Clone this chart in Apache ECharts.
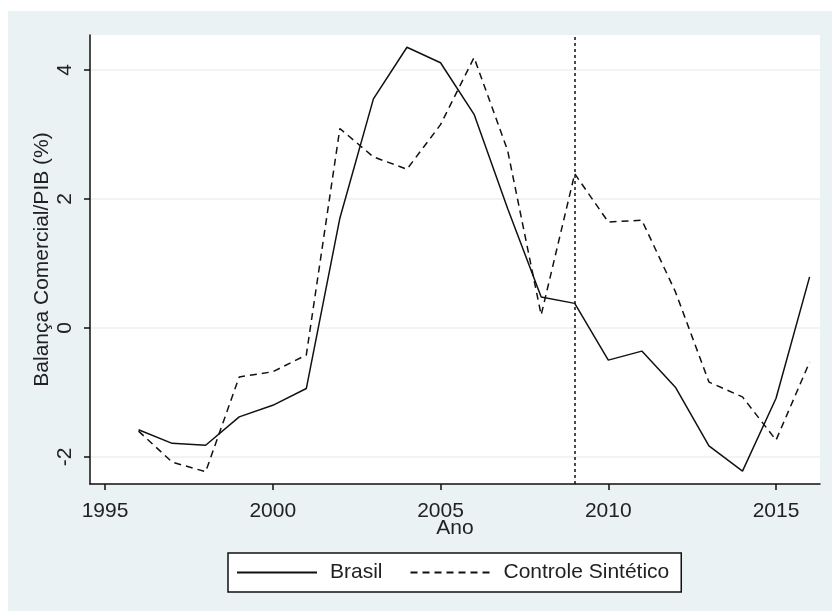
<!DOCTYPE html>
<html>
<head>
<meta charset="utf-8">
<script src="https://cdn.jsdelivr.net/npm/echarts@6/dist/echarts.min.js"></script>
<style>
html,body{margin:0;padding:0;background:#fff;}
#chart{width:832px;height:611px;}
</style>
</head>
<body>
<div id="chart"></div>
<script>
const years = [1996,1997,1998,1999,2000,2001,2002,2003,2004,2005,2006,2007,2008,2009,2010,2011,2012,2013,2014,2015,2016];
const brasil = [-1.58,-1.79,-1.82,-1.38,-1.20,-0.94,1.70,3.55,4.35,4.11,3.31,1.85,0.48,0.38,-0.50,-0.36,-0.92,-1.83,-2.22,-1.09,0.79];
const sintetico = [-1.60,-2.08,-2.23,-0.76,-0.68,-0.42,3.09,2.65,2.46,3.15,4.19,2.75,0.20,2.39,1.64,1.67,0.56,-0.84,-1.07,-1.74,-0.53];
const xTicks = [1995,2000,2005,2010,2015];
const yTicks = [-2,0,2,4];
const treatmentYear = 2009;
const seriesNames = ['Brasil','Controle Sintético'];
const xName = 'Ano';
const yName = 'Balança Comercial/PIB (%)';

const FONT = '"Liberation Sans", Arial, sans-serif';
const FS = 21;
const TXT = '#222';
const chart = echarts.init(document.getElementById('chart'));
chart.setOption({
  animation:false,
  backgroundColor:'#fff',
  graphic:[{type:'rect',left:8,top:11,z:-100,shape:{width:824,height:600},style:{fill:'#EAF2F3'},silent:true}],
  grid:{left:90,right:12,top:35,bottom:127,show:true,backgroundColor:'#fff',borderWidth:0},
  xAxis:{
    type:'value',min:1994.553,max:2016.31,
    name:xName,nameLocation:'middle',nameGap:34,nameMoveOverlap:false,
    nameTextStyle:{fontFamily:FONT,fontSize:FS,color:TXT},
    axisLine:{show:true,onZero:false,lineStyle:{color:'#111',width:1.5}},
    axisTick:{show:true,length:6,customValues:xTicks,lineStyle:{color:'#111',width:1.5}},
    axisLabel:{customValues:xTicks,margin:17,fontFamily:FONT,fontSize:FS,color:TXT,formatter:v=>String(v)},
    splitLine:{show:false}
  },
  yAxis:{
    type:'value',min:-2.42,max:4.54,
    name:yName,nameLocation:'middle',nameRotate:90,nameGap:37,nameMoveOverlap:false,
    nameTextStyle:{fontFamily:FONT,fontSize:FS,color:TXT},
    axisLine:{show:true,onZero:false,lineStyle:{color:'#111',width:1.5}},
    axisTick:{show:true,length:6,customValues:yTicks,lineStyle:{color:'#111',width:1.5}},
    axisLabel:{customValues:yTicks,rotate:90,margin:14,fontFamily:FONT,fontSize:FS,color:TXT,formatter:v=>String(v)},
    splitLine:{show:true,lineStyle:{color:'#EAF2F3',width:1.5}}
  },
  legend:{
    left:228,top:553,orient:'horizontal',
    backgroundColor:'#fff',borderColor:'#111',borderWidth:1.5,borderRadius:0,
    padding:[9,12,9,8],itemGap:27,itemWidth:80,itemHeight:14,
    itemStyle:{opacity:0},
    textStyle:{fontFamily:FONT,fontSize:FS,color:TXT,padding:[0,0,0,8]},
    data:seriesNames.map(n=>({name:n}))
  },
  series:[
    {name:seriesNames[0],type:'line',data:years.map((y,i)=>[y,brasil[i]]),symbol:'none',
     lineStyle:{color:'#111',width:1.5,type:'solid'},itemStyle:{color:'#111'},
     markLine:{silent:true,symbol:'none',label:{show:false},
       lineStyle:{color:'#111',width:1.5,type:[3,3]},data:[{xAxis:treatmentYear}]}},
    {name:seriesNames[1],type:'line',data:years.map((y,i)=>[y,sintetico[i]]),symbol:'none',
     lineStyle:{color:'#111',width:1.5,type:[7,5]},itemStyle:{color:'#111'}}
  ]
});
</script>
</body>
</html>
